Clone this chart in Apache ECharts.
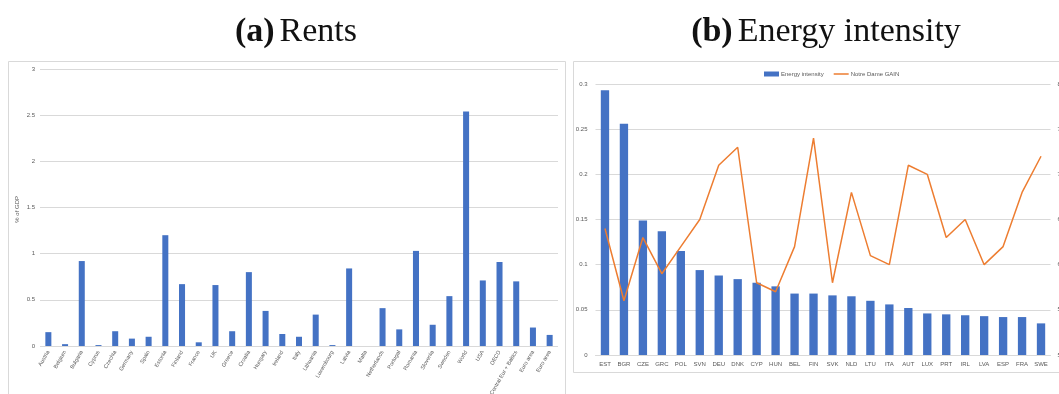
<!DOCTYPE html>
<html>
<head>
<meta charset="utf-8">
<script src="https://cdn.jsdelivr.net/npm/echarts@6/dist/echarts.min.js"></script>
<style>
  html, body { margin: 0; padding: 0; background: #fff; }
  #chart { width: 1059px; height: 394px; }
</style>
</head>
<body>
<div id="chart"></div>
<script>
// (a) Rents, % of GDP
const rentCountries = ['Austria', 'Belgium', 'Bulgaria', 'Cyprus', 'Czechia', 'Germany', 'Spain', 'Estonia',
  'Finland', 'France', 'UK', 'Greece', 'Croatia', 'Hungary', 'Ireland', 'Italy', 'Lithuania', 'Luxembourg',
  'Latvia', 'Malta', 'Netherlands', 'Portugal', 'Romania', 'Slovenia', 'Sweden', 'World', 'USA', 'OECD',
  'Central Eur + Baltics', 'Euro area', 'Euro area'];
const rentValues = [0.15, 0.02, 0.92, 0.01, 0.16, 0.08, 0.10, 1.20,
  0.67, 0.04, 0.66, 0.16, 0.80, 0.38, 0.13, 0.10, 0.34, 0.01,
  0.84, 0.0, 0.41, 0.18, 1.03, 0.23, 0.54, 2.54, 0.71, 0.91,
  0.70, 0.20, 0.12];
const rentTicks = { min: 0, max: 3, step: 0.5 };

// (b) Energy intensity and Notre Dame GAIN index
const energyCountries = ['EST', 'BGR', 'CZE', 'GRC', 'POL', 'SVN', 'DEU', 'DNK', 'CYP', 'HUN', 'BEL', 'FIN',
  'SVK', 'NLD', 'LTU', 'ITA', 'AUT', 'LUX', 'PRT', 'IRL', 'LVA', 'ESP', 'FRA', 'SWE'];
const energyIntensity = [0.293, 0.256, 0.149, 0.137, 0.115, 0.094, 0.088, 0.084, 0.080, 0.076, 0.068, 0.068,
  0.066, 0.065, 0.060, 0.056, 0.052, 0.046, 0.045, 0.044, 0.043, 0.042, 0.042, 0.035];
const gainIndex = [64, 56, 63, 59, 62, 65, 71, 73, 58, 57, 62, 74,
  58, 68, 61, 60, 71, 70, 63, 65, 60, 62, 68, 72];
const energyTicks = { min: 0, max: 0.3, step: 0.05 };
const gainTicks = { min: 50, max: 80, step: 5 };

const BLUE = '#4472C4';
const ORANGE = '#ED7D31';
const GRID = '#d9d9d9';
const TXT = '#595959';
const SANS = 'Liberation Sans, Arial, sans-serif';
const SERIF = 'Liberation Serif, DejaVu Serif, serif';

const chart = echarts.init(document.getElementById('chart'), null, { renderer: 'canvas' });

function caption(tag, text, cx) {
  return {
    text: '{b|' + tag + '} {r|' + text + '}',
    left: cx, top: 10, textAlign: 'center',
    textStyle: {
      fontWeight: 'normal',
      rich: {
        b: { fontFamily: SERIF, fontSize: 34, fontWeight: 'bold', color: '#111' },
        r: { fontFamily: SERIF, fontSize: 34, fontWeight: 'normal', color: '#111' }
      }
    }
  };
}

const option = {
  backgroundColor: '#fff',
  animation: false,
  title: [caption('(a)', 'Rents', 291), caption('(b)', 'Energy intensity', 821)],
  graphic: [
    { type: 'rect', shape: { x: 8.5, y: 61.5, width: 557, height: 360 },
      style: { fill: 'none', stroke: '#d9d9d9', lineWidth: 1 }, silent: true },
    { type: 'rect', shape: { x: 573.5, y: 61.5, width: 500, height: 311 },
      style: { fill: 'none', stroke: '#d9d9d9', lineWidth: 1 }, silent: true },
    { type: 'text', left: 14, top: 196, rotation: Math.PI / 2,
      style: { text: '% of GDP', fontSize: 6, fontFamily: SANS, fill: TXT } }
  ],
  legend: {
    top: 66, left: 759, itemWidth: 15, itemHeight: 5, itemGap: 10,
    textStyle: { fontSize: 6, fontFamily: SANS, color: TXT, padding: [0, 0, 0, -3] },
    data: [
      { name: 'Energy intensity', icon: 'rect' },
      { name: 'Notre Dame GAIN', icon: 'path://M0,0 L20,0 L20,2 L0,2 Z' }
    ]
  },
  grid: [
    { left: 40, top: 69, width: 518, height: 277, outerBoundsMode: 'none', containLabel: false },
    { left: 595.5, top: 84, width: 455, height: 271, outerBoundsMode: 'none', containLabel: false }
  ],
  xAxis: [
    {
      type: 'category', gridIndex: 0, data: rentCountries,
      axisLine: { show: false }, axisTick: { show: false },
      axisLabel: { interval: 0, rotate: 60, fontSize: 5.5, fontFamily: SANS, color: TXT, margin: 5 }
    },
    {
      type: 'category', gridIndex: 1, data: energyCountries,
      axisLine: { lineStyle: { color: GRID } }, axisTick: { show: false },
      axisLabel: { interval: 0, fontSize: 6, fontFamily: SANS, color: TXT, margin: 6 }
    }
  ],
  yAxis: [
    {
      type: 'value', gridIndex: 0, min: rentTicks.min, max: rentTicks.max, interval: rentTicks.step,
      axisLine: { show: false }, axisTick: { show: false },
      axisLabel: { fontSize: 6, fontFamily: SANS, color: TXT, margin: 5 },
      splitLine: { lineStyle: { color: GRID } }
    },
    {
      type: 'value', gridIndex: 1, min: energyTicks.min, max: energyTicks.max, interval: energyTicks.step,
      axisLine: { show: false }, axisTick: { show: false },
      axisLabel: { fontSize: 6, fontFamily: SANS, color: TXT, margin: 8 },
      splitLine: { lineStyle: { color: GRID } }
    },
    {
      type: 'value', gridIndex: 1, position: 'right', min: gainTicks.min, max: gainTicks.max, interval: gainTicks.step,
      axisLine: { show: false }, axisTick: { show: false },
      axisLabel: { fontSize: 6, fontFamily: SANS, color: TXT, margin: 7 },
      splitLine: { show: false }
    }
  ],
  series: [
    {
      name: 'Rents', type: 'bar', xAxisIndex: 0, yAxisIndex: 0, data: rentValues,
      barWidth: '36%', itemStyle: { color: BLUE }
    },
    {
      name: 'Energy intensity', type: 'bar', xAxisIndex: 1, yAxisIndex: 1, data: energyIntensity,
      barWidth: '44%', itemStyle: { color: BLUE }
    },
    {
      name: 'Notre Dame GAIN', type: 'line', xAxisIndex: 1, yAxisIndex: 2, data: gainIndex,
      symbol: 'none', lineStyle: { color: ORANGE, width: 1.5 }, itemStyle: { color: ORANGE }
    }
  ]
};

chart.setOption(option);
</script>
</body>
</html>
